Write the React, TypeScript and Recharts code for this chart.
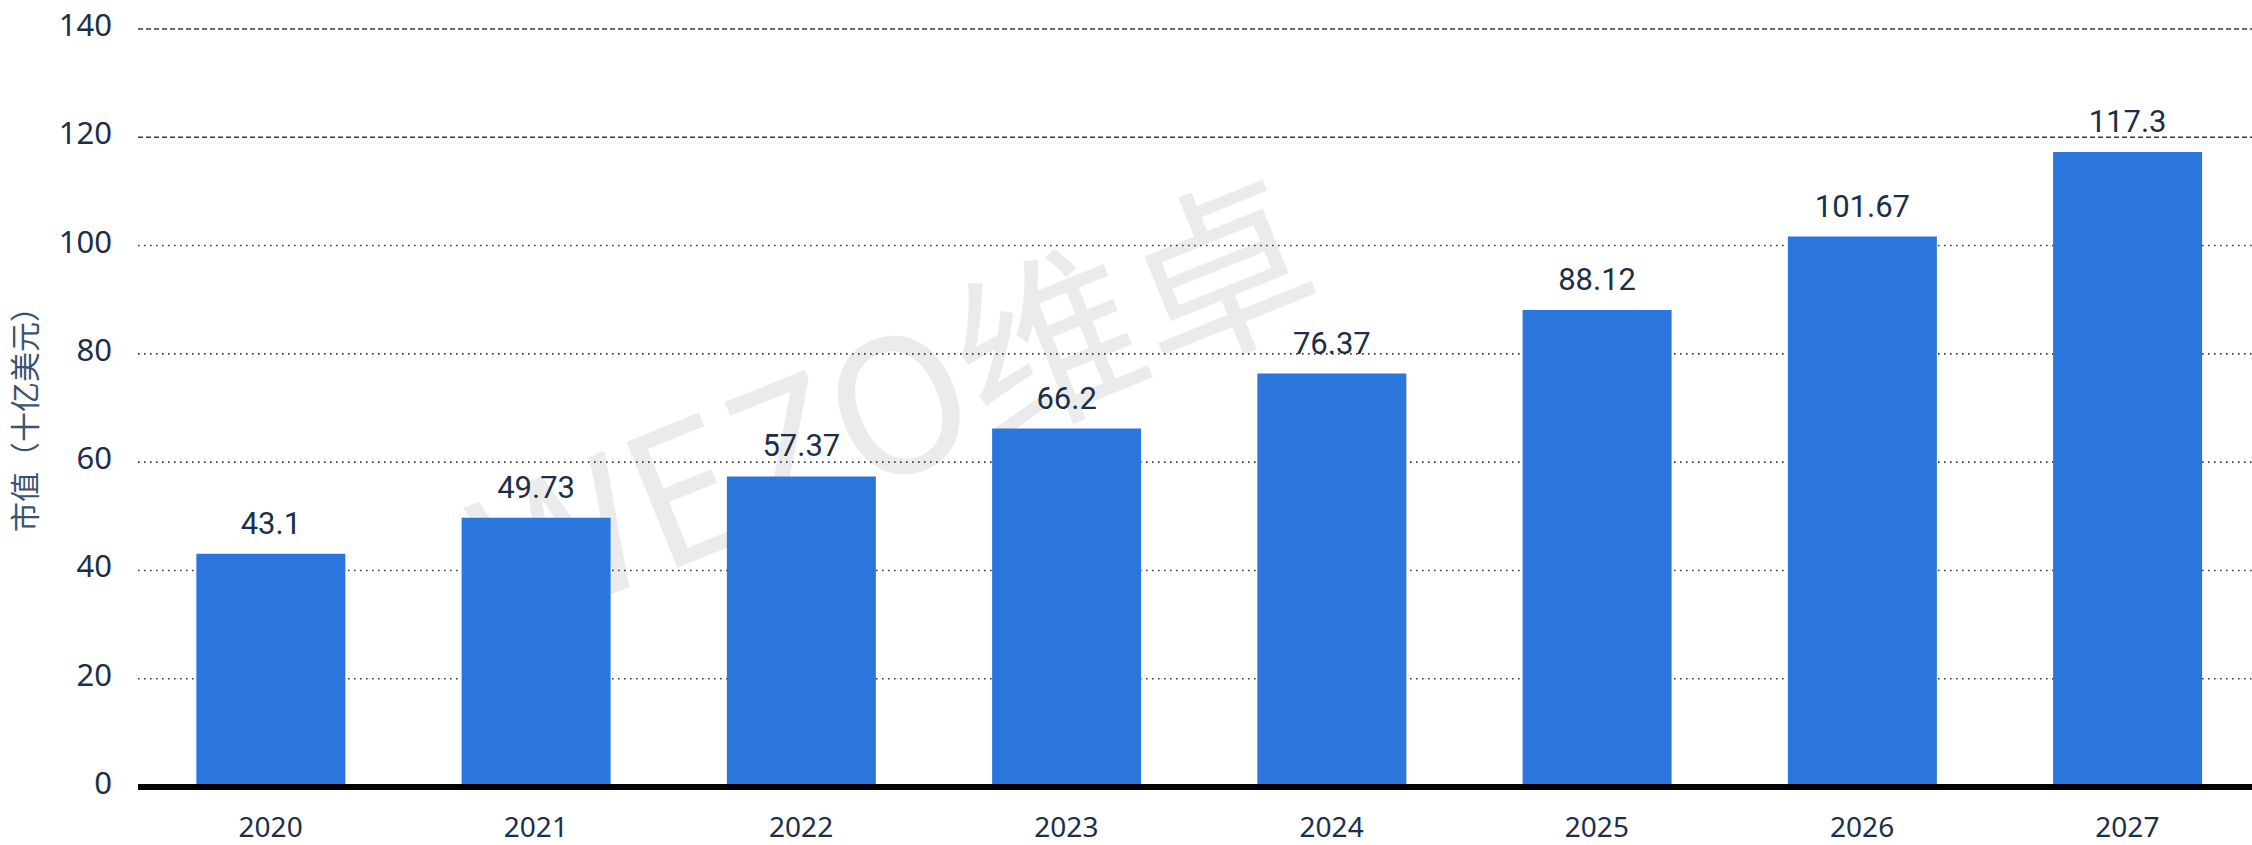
import React from 'react';
import { BarChart, Bar, XAxis, YAxis, CartesianGrid, LabelList } from 'recharts';

const YEARS = ['2020', '2021', '2022', '2023', '2024', '2025', '2026', '2027'];
const VALUES = [43.1, 49.73, 57.37, 66.2, 76.37, 88.12, 101.67, 117.3];
const Y_TICKS = [0, 20, 40, 60, 80, 100, 120, 140];
const Y_TITLE = '市值（十亿美元）';
const WATERMARK = 'WEZO维卓';

const data = YEARS.map((year, i) => ({ year, value: VALUES[i] }));

const TEXT = '#1b2f4b';
const BAR = '#2a76dc';

function GridLine(props: any) {
  const { x1, x2, y1, y2, index } = props;
  const val = Y_TICKS[index];
  const dashed = val >= 120;
  return (
    <line
      x1={x1}
      x2={x2}
      y1={y1}
      y2={y2}
      stroke="#3a3a3a"
      strokeWidth={1.6}
      strokeDasharray={dashed ? '5 3' : '1.6 4.4'}
    />
  );
}

function YTitle(props: any) {
  const vb = props.viewBox || { x: 0, y: 0, width: 0, height: 0 };
  const cx = vb.x + 23;
  const cy = vb.y + vb.height / 2 + 4;
  return (
    <text
      x={cx}
      y={cy}
      transform={`rotate(-90 ${cx} ${cy})`}
      textAnchor="middle"
      dominantBaseline="central"
      fill="#3a5272"
      fontSize={30}
      fontFamily='"Noto Sans CJK SC", sans-serif'
    >
      {Y_TITLE}
    </text>
  );
}

export default function App() {
  return (
    <div
      style={{
        position: 'absolute',
        left: 0,
        top: 0,
        width: 2252,
        height: 845,
        overflow: 'hidden',
        background: '#fff',
      }}
    >
      <div
        style={{
          position: 'absolute',
          left: 890,
          top: 395,
          transform: 'translate(-50%, -50%) rotate(-22deg)',
          fontSize: 185,
          color: '#ebebeb',
          whiteSpace: 'nowrap',
          fontFamily: '"Noto Sans CJK SC", "Noto Sans", sans-serif',
          fontWeight: 400,
          lineHeight: 1,
        }}
      >
        {WATERMARK}
      </div>
      <BarChart
        width={2260}
        height={845}
        data={data}
        margin={{ top: 29, right: 0, bottom: 0, left: 0 }}
        barCategoryGap="22%"
        style={{ position: 'absolute', left: 0, top: 0 }}
      >
        <CartesianGrid vertical={false} horizontal={GridLine as any} />
        <XAxis
          dataKey="year"
          height={58}
          interval={0}
          axisLine={{ stroke: '#000', strokeWidth: 6 }}
          tickLine={false}
          tickSize={0}
          tickMargin={30}
          tick={{ fill: TEXT, fontSize: 28, fontFamily: '"Noto Sans", sans-serif' }}
        />
        <YAxis
          width={138}
          domain={[0, 140]}
          ticks={Y_TICKS}
          axisLine={false}
          tickLine={false}
          tickSize={0}
          tickMargin={26}
          tick={{ fill: TEXT, fontSize: 31, fontFamily: '"Noto Sans", sans-serif', dy: -4 }}
          label={{ content: YTitle } as any}
        />
        <Bar dataKey="value" fill={BAR} isAnimationActive={false}>
          <LabelList
            dataKey="value"
            position="top"
            offset={20}
            fill={TEXT}
            fontSize={31}
            fontFamily="Roboto, sans-serif"
          />
        </Bar>
      </BarChart>
    </div>
  );
}
